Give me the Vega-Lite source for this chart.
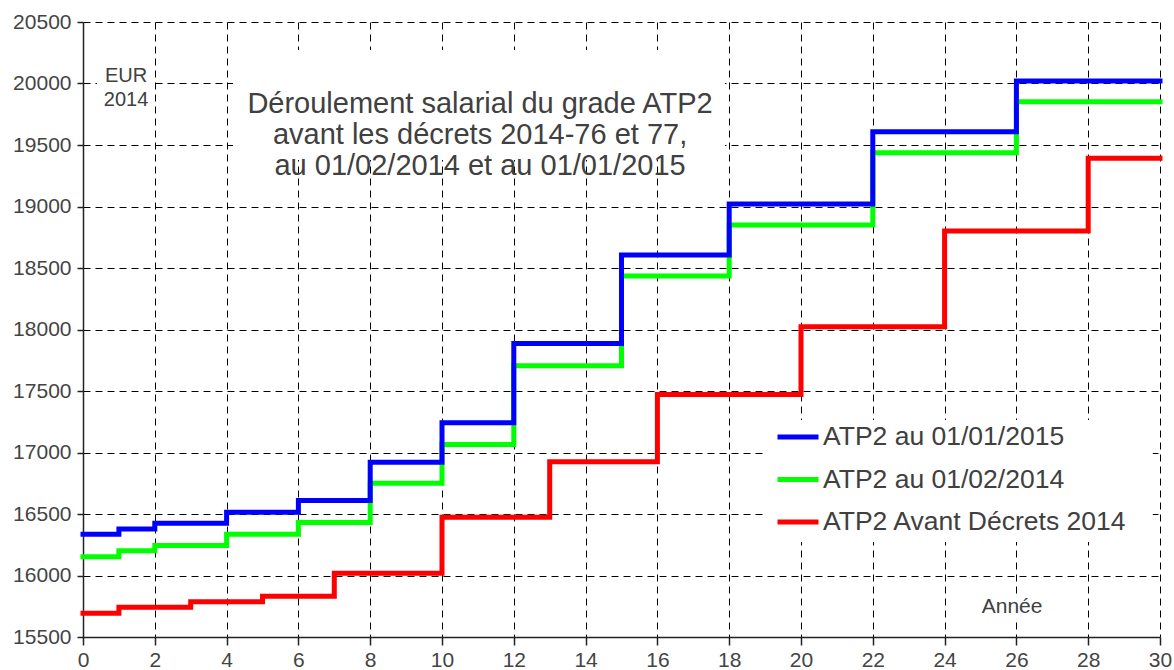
{
  "$schema": "https://vega.github.io/schema/vega-lite/v6.json",
  "width": 1077,
  "height": 615,
  "autosize": {"type": "none"},
  "padding": {"left": 83, "top": 22, "right": 14, "bottom": 33},
  "background": "white",
  "config": {
    "view": {"stroke": null},
    "font": "Liberation Sans"
  },
  "layer": [
    {
      "data": {"values": [{}]},
      "mark": {"type": "rect", "fill": "white"},
      "encoding": {
        "x": {"datum": 4.18, "type": "quantitative", "scale": {"domain": [0, 30], "nice": false, "zero": false},
          "axis": {
            "values": [0,1,2,3,4,5,6,7,8,9,10,11,12,13,14,15,16,17,18,19,20,21,22,23,24,25,26,27,28,29,30],
            "labelExpr": "datum.value % 2 === 0 ? datum.label : ''",
            "title": null,
            "grid": true, "gridColor": "#000", "gridDash": [7, 5], "gridWidth": 1, "gridOpacity": 1,
            "domainColor": "#222", "domainWidth": 1.5,
            "tickColor": "#222", "tickSize": 8, "tickWidth": 1.5,
            "tickOpacity": {"condition": {"test": "datum.value % 2 === 1", "value": 0}, "value": 1},
            "labelFontSize": 21, "labelColor": "#444", "labelPadding": 4, "labelFont": "Liberation Sans",
            "labelFlush": false, "labelOverlap": false
          }
        },
        "x2": {"datum": 17.88},
        "y": {"datum": 20272, "type": "quantitative", "scale": {"domain": [15500, 20500], "nice": false, "zero": false},
          "axis": {
            "values": [15500,15750,16000,16250,16500,16750,17000,17250,17500,17750,18000,18250,18500,18750,19000,19250,19500,19750,20000,20250,20500],
            "format": "d",
            "labelExpr": "datum.value % 500 === 0 ? datum.label : ''",
            "title": null,
            "grid": true, "gridColor": "#000", "gridDash": [7, 5], "gridWidth": 1, "gridOpacity": 1,
            "domainColor": "#222", "domainWidth": 1.5,
            "tickColor": "#222", "tickSize": 6, "tickWidth": 1.5,
            "tickOpacity": {"condition": {"test": "datum.value % 500 !== 0", "value": 0}, "value": 1},
            "labelFontSize": 21, "labelColor": "#444", "labelPadding": 6, "labelFont": "Liberation Sans",
            "labelOverlap": false, "labelFlush": false
          }
        },
        "y2": {"datum": 19378}
      }
    },
    {
      "data": {"values": [{}]},
      "mark": {"type": "rect", "fill": "white"},
      "encoding": {
        "x": {"datum": 0.39, "type": "quantitative"},
        "x2": {"datum": 1.95},
        "y": {"datum": 20248, "type": "quantitative"},
        "y2": {"datum": 19744}
      }
    },
    {
      "data": {"values": [{}]},
      "mark": {"type": "rect", "fill": "white"},
      "encoding": {
        "x": {"datum": 18.94, "type": "quantitative"},
        "x2": {"datum": 29.8},
        "y": {"datum": 17264, "type": "quantitative"},
        "y2": {"datum": 16272}
      }
    },
    {
      "data": {"values": [{}]},
      "mark": {"type": "rect", "fill": "white"},
      "encoding": {
        "x": {"datum": 24.93, "type": "quantitative"},
        "x2": {"datum": 26.82},
        "y": {"datum": 15841, "type": "quantitative"},
        "y2": {"datum": 15638}
      }
    },
    {
      "data": {"values": [{}]},
      "mark": {"type": "text", "text": ["Déroulement salarial du grade ATP2", "avant les décrets 2014-76 et 77,", "au 01/02/2014 et au 01/01/2015"], "fontSize": 29, "lineHeight": 31, "align": "center", "baseline": "middle", "color": "#404040", "font": "Liberation Sans"},
      "encoding": {
        "x": {"datum": 11.06, "type": "quantitative"},
        "y": {"datum": 19830, "type": "quantitative"}
      }
    },
    {
      "data": {"values": [{}]},
      "mark": {"type": "text", "text": ["EUR", "2014"], "fontSize": 20, "lineHeight": 24, "align": "center", "baseline": "middle", "color": "#404040", "font": "Liberation Sans"},
      "encoding": {
        "x": {"datum": 1.2, "type": "quantitative"},
        "y": {"datum": 20060, "type": "quantitative"}
      }
    },
    {
      "data": {"values": [{}]},
      "mark": {"type": "text", "text": "Année", "fontSize": 21, "align": "center", "baseline": "middle", "color": "#404040", "font": "Liberation Sans"},
      "encoding": {
        "x": {"datum": 25.88, "type": "quantitative"},
        "y": {"datum": 15744, "type": "quantitative"}
      }
    },
    {
      "data": {"values": [
        {"serie": "ATP2 Avant Décrets 2014", "annee": 0, "salaire": 15693},
        {"serie": "ATP2 Avant Décrets 2014", "annee": 1, "salaire": 15742},
        {"serie": "ATP2 Avant Décrets 2014", "annee": 3, "salaire": 15787},
        {"serie": "ATP2 Avant Décrets 2014", "annee": 5, "salaire": 15831},
        {"serie": "ATP2 Avant Décrets 2014", "annee": 7, "salaire": 16018},
        {"serie": "ATP2 Avant Décrets 2014", "annee": 10, "salaire": 16473},
        {"serie": "ATP2 Avant Décrets 2014", "annee": 13, "salaire": 16925},
        {"serie": "ATP2 Avant Décrets 2014", "annee": 16, "salaire": 17472},
        {"serie": "ATP2 Avant Décrets 2014", "annee": 20, "salaire": 18023},
        {"serie": "ATP2 Avant Décrets 2014", "annee": 24, "salaire": 18801},
        {"serie": "ATP2 Avant Décrets 2014", "annee": 28, "salaire": 19392},
        {"serie": "ATP2 Avant Décrets 2014", "annee": 30, "salaire": 19392},
        {"serie": "ATP2 au 01/02/2014", "annee": 0, "salaire": 16153},
        {"serie": "ATP2 au 01/02/2014", "annee": 1, "salaire": 16202},
        {"serie": "ATP2 au 01/02/2014", "annee": 2, "salaire": 16243},
        {"serie": "ATP2 au 01/02/2014", "annee": 4, "salaire": 16335},
        {"serie": "ATP2 au 01/02/2014", "annee": 6, "salaire": 16430},
        {"serie": "ATP2 au 01/02/2014", "annee": 8, "salaire": 16749},
        {"serie": "ATP2 au 01/02/2014", "annee": 10, "salaire": 17066},
        {"serie": "ATP2 au 01/02/2014", "annee": 12, "salaire": 17706},
        {"serie": "ATP2 au 01/02/2014", "annee": 15, "salaire": 18435},
        {"serie": "ATP2 au 01/02/2014", "annee": 18, "salaire": 18850},
        {"serie": "ATP2 au 01/02/2014", "annee": 22, "salaire": 19438},
        {"serie": "ATP2 au 01/02/2014", "annee": 26, "salaire": 19852},
        {"serie": "ATP2 au 01/02/2014", "annee": 30, "salaire": 19852},
        {"serie": "ATP2 au 01/01/2015", "annee": 0, "salaire": 16335},
        {"serie": "ATP2 au 01/01/2015", "annee": 1, "salaire": 16378},
        {"serie": "ATP2 au 01/01/2015", "annee": 2, "salaire": 16424},
        {"serie": "ATP2 au 01/01/2015", "annee": 4, "salaire": 16514},
        {"serie": "ATP2 au 01/01/2015", "annee": 6, "salaire": 16610},
        {"serie": "ATP2 au 01/01/2015", "annee": 8, "salaire": 16920},
        {"serie": "ATP2 au 01/01/2015", "annee": 10, "salaire": 17242},
        {"serie": "ATP2 au 01/01/2015", "annee": 12, "salaire": 17887},
        {"serie": "ATP2 au 01/01/2015", "annee": 15, "salaire": 18606},
        {"serie": "ATP2 au 01/01/2015", "annee": 18, "salaire": 19020},
        {"serie": "ATP2 au 01/01/2015", "annee": 22, "salaire": 19608},
        {"serie": "ATP2 au 01/01/2015", "annee": 26, "salaire": 20020},
        {"serie": "ATP2 au 01/01/2015", "annee": 30, "salaire": 20020}
      ]},
      "mark": {"type": "line", "interpolate": "step-after", "strokeWidth": 5, "strokeCap": "square"},
      "encoding": {
        "x": {"field": "annee", "type": "quantitative"},
        "y": {"field": "salaire", "type": "quantitative"},
        "color": {
          "field": "serie", "type": "nominal",
          "scale": {"domain": ["ATP2 au 01/01/2015", "ATP2 au 01/02/2014", "ATP2 Avant Décrets 2014"], "range": ["#0000ff", "#00ff00", "#ff0000"]},
          "legend": {
            "orient": "none", "legendX": 692, "legendY": 392, "title": null,
            "symbolType": "stroke", "symbolSize": 1681, "symbolStrokeWidth": 5,
            "labelFontSize": 26.5, "labelFont": "Liberation Sans", "labelColor": "#404040",
            "labelOffset": 2, "rowPadding": 5.5, "padding": 0, "labelLimit": 600
          }
        },
        "order": {"value": 0}
      }
    }
  ]
}
